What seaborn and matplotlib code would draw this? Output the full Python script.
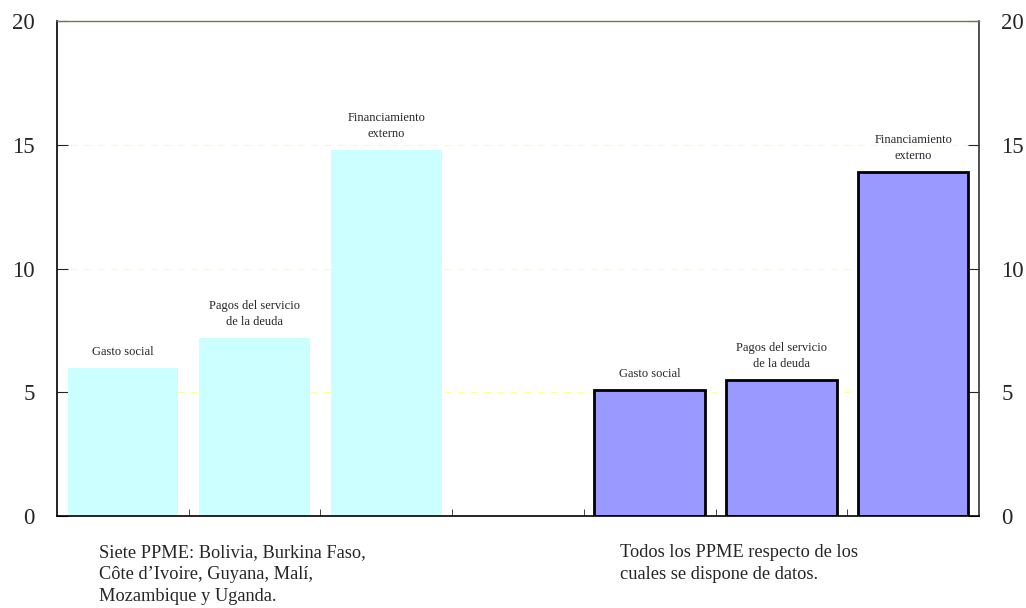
import matplotlib
matplotlib.use("Agg")
import matplotlib.pyplot as plt
import numpy as np
import pandas as pd
import seaborn as sns

# Data
slots = ["g1", "p1", "f1", "blank", "g2", "p2", "f2"]
groups = ["siete", "siete", "siete", None, "todos", "todos", "todos"]
bar_labels = ["Gasto social", "Pagos del servicio\nde la deuda", "Financiamiento\nexterno", "",
              "Gasto social", "Pagos del servicio\nde la deuda", "Financiamiento\nexterno"]
values = [6.0, 7.2, 14.8, np.nan, 5.1, 5.5, 13.9]
yticks = [0, 5, 10, 15, 20]
note_left = "Siete PPME: Bolivia, Burkina Faso,\nCôte d\u2019Ivoire, Guyana, Malí,\nMozambique y Uganda."
note_right = "Todos los PPME respecto de los\ncuales se dispone de datos."

frame = pd.DataFrame({"slot": slots, "group": groups, "value": values, "label": bar_labels})
frame = frame.dropna(subset=["value"])

sns.set_style("white")
plt.rcParams["font.family"] = ["Liberation Serif", "DejaVu Serif"]

fig = plt.figure(figsize=(10.26, 6.08), dpi=100)
ax = fig.add_axes([0.0556, 0.151, 0.8986, 0.8145])

sns.barplot(data=frame, x="slot", y="value", hue="group", order=slots,
            palette={"siete": "#CCFFFF", "todos": "#9999FF"}, dodge=False,
            width=0.84, saturation=1, legend=False, ax=ax)

for bar in ax.patches:
    if bar.get_height() > 0 and bar.get_facecolor()[0] < 0.8:
        bar.set_edgecolor("black")
        bar.set_linewidth(2)
    else:
        bar.set_linewidth(0)

# labels above the bars
for i, s in enumerate(slots):
    v = values[i]
    if np.isnan(v):
        continue
    ax.annotate(bar_labels[i], (i, v), xytext=(0, 7), textcoords="offset points",
                ha="center", va="bottom", fontsize=9, linespacing=1.5)

ax.set_xlim(-0.5, 6.5)
ax.set_ylim(0, 20)
ax.set_yticks(yticks)
ax.set_xticks([])
ax.set_xticks(np.arange(0.5, 6, 1), minor=True)
ax.set_xlabel("")
ax.set_ylabel("")

for y in yticks[1:]:
    ax.axhline(y, color="#FFFF99", linestyle=(0, (6, 6)), linewidth=0.8, zorder=0)

ax.tick_params(axis="y", which="both", direction="in", length=8, left=True, right=True,
               labelleft=True, labelright=True, labelsize=16.5, pad=16)
ax.tick_params(axis="x", which="minor", direction="in", length=5, bottom=True)

for side in ["left", "right", "bottom"]:
    ax.spines[side].set_visible(True)
    ax.spines[side].set_color("black")
    ax.spines[side].set_linewidth(1.2)
ax.spines["right"].set_color("#333333")
ax.spines["top"].set_color("#777755")
ax.spines["top"].set_linewidth(1.0)

fig.text(99 / 1026, 1 - 544 / 608, note_left, ha="left", va="top", fontsize=13.2, linespacing=1.4)
fig.text(620 / 1026, 1 - 544 / 608, note_right, ha="left", va="top", fontsize=13.2, linespacing=1.4)

fig.savefig("out.png", dpi=100)
